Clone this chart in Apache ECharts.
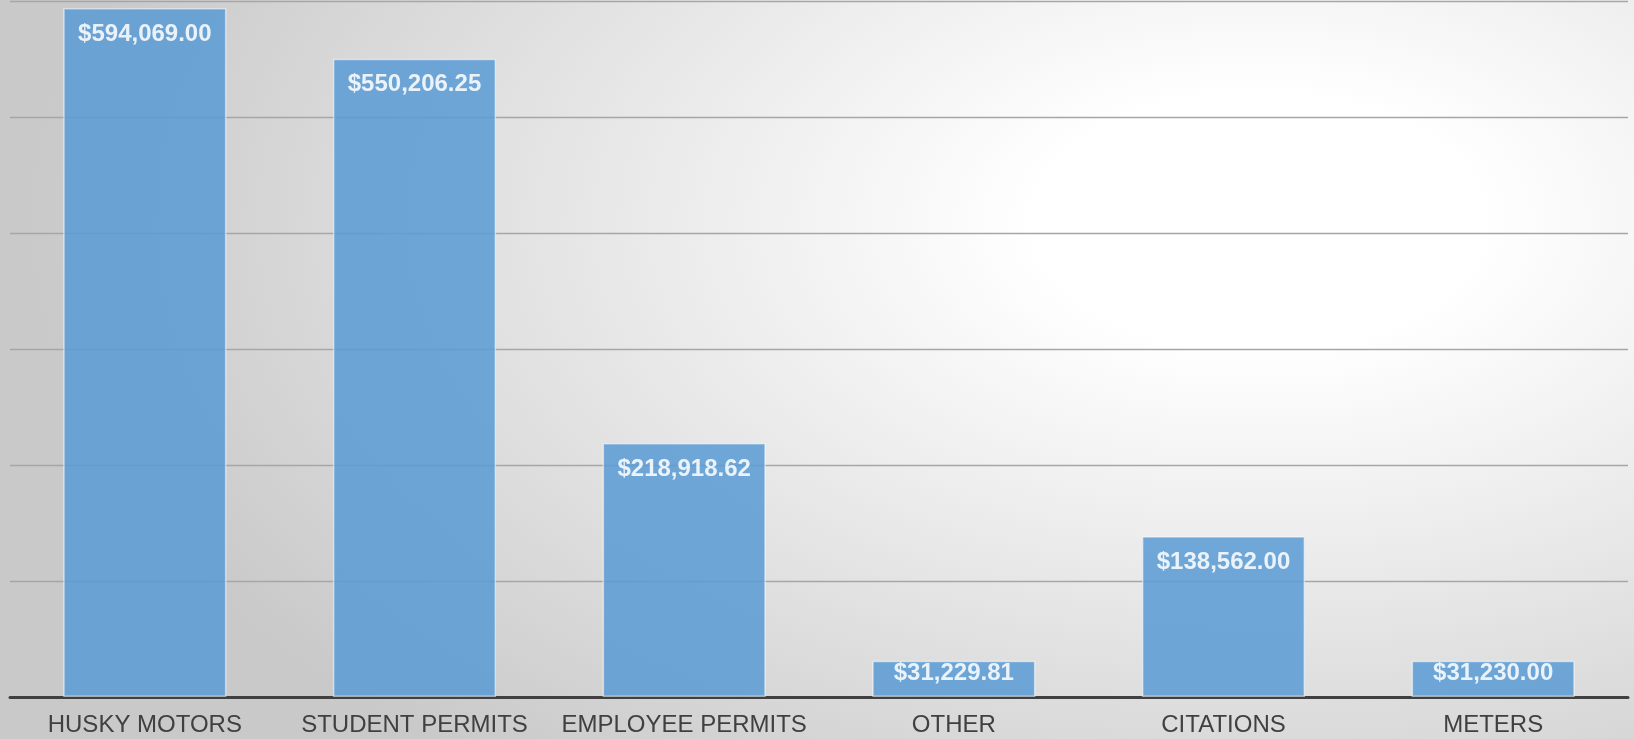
<!DOCTYPE html>
<html>
<head>
<meta charset="utf-8">
<script src="https://cdn.jsdelivr.net/npm/echarts@6/dist/echarts.min.js"></script>
<style>
  html, body { margin: 0; padding: 0; }
  #barChart {
    width: 1634px;
    height: 739px;
    background: radial-gradient(ellipse 75% 95% at 77% 30%, #ffffff 0%, #ffffff 18%, #c9c9c9 100%);
  }
</style>
</head>
<body>
<div id="barChart"></div>
<script>
// categories and revenue per source
const categories = ['HUSKY MOTORS', 'STUDENT PERMITS', 'EMPLOYEE PERMITS', 'OTHER', 'CITATIONS', 'METERS']
const revenue = [594069.00, 550206.25, 218918.62, 31229.81, 138562.00, 31230.00]
const yMin = 0
const yMax = 600000
const yStep = 100000

function money (v) {
  return '$' + v.toLocaleString('en-US', { minimumFractionDigits: 2, maximumFractionDigits: 2 })
}

let myChart = echarts.init(document.getElementById('barChart'))
myChart.setOption({
  backgroundColor: 'transparent',
  animation: false,
  grid: {
    left: 10,
    right: 6,
    top: 1,
    bottom: 42
  },
  xAxis: {
    type: 'category',
    data: categories,
    axisTick: { show: false },
    axisLine: {
      lineStyle: { color: '#404040', width: 3 }
    },
    axisLabel: {
      color: '#404040',
      fontSize: 24,
      fontFamily: 'Liberation Sans, Arial, sans-serif',
      margin: 16,
      interval: 0
    }
  },
  yAxis: {
    type: 'value',
    min: yMin,
    max: yMax,
    interval: yStep,
    axisLabel: { show: false },
    axisLine: { show: false },
    axisTick: { show: false },
    splitLine: {
      lineStyle: { color: '#a6a6a6', width: 1.3 }
    }
  },
  series: [
    {
      type: 'bar',
      barWidth: '60.5%',
      data: revenue.map(v => ({
        value: v,
        label: { distance: v < 50000 ? 1 : 14 }
      })),
      itemStyle: {
        color: '#5B9BD5',
        opacity: 0.86,
        borderColor: 'rgba(255,255,255,0.6)',
        borderWidth: 1.5
      },
      label: {
        show: true,
        position: 'insideTop',
        color: '#ffffff',
        fontWeight: 'bold',
        fontSize: 24,
        fontFamily: 'Liberation Sans, Arial, sans-serif',
        formatter: p => money(p.value)
      }
    }
  ]
})
</script>
</body>
</html>
